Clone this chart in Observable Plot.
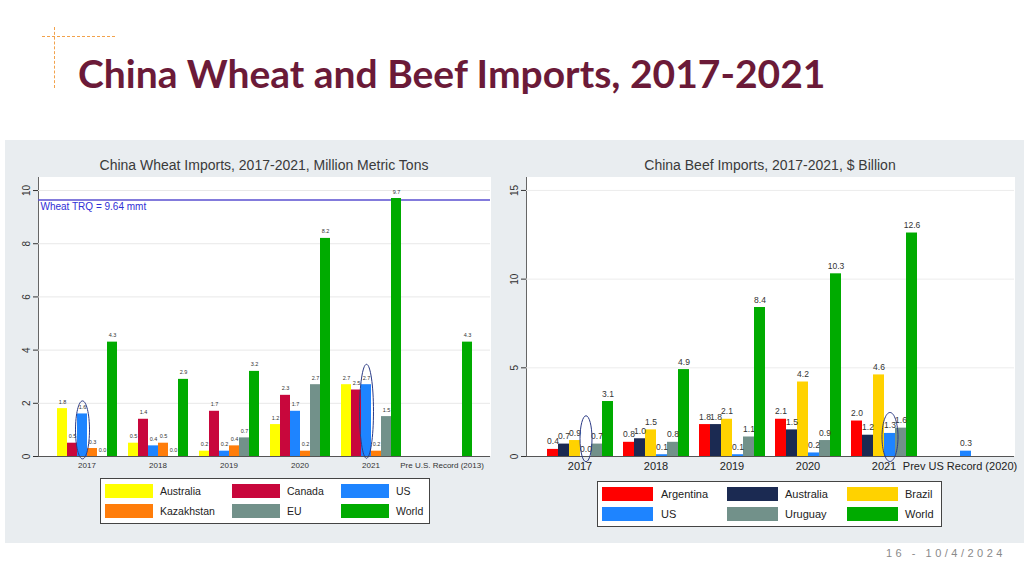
<!DOCTYPE html>
<html><head><meta charset="utf-8">
<script src="https://cdn.jsdelivr.net/npm/d3@7"></script>
<script src="https://cdn.jsdelivr.net/npm/@observablehq/plot@0.6"></script>
<style>
body{margin:0;width:1024px;height:576px;position:relative;background:#fff;font-family:"Liberation Sans",Arial,sans-serif;overflow:hidden}
.abs{position:absolute}
.sw{position:absolute;height:14px}
.lt{position:absolute;color:#222;line-height:14px}
</style></head><body>
<div class="abs" style="left:42px;top:36px;width:73px;border-top:1.5px dashed #f2a24c"></div>
<div class="abs" style="left:54px;top:27px;height:61px;border-left:1.5px dashed #f2a24c"></div>
<div class="abs" id="title" style="left:78px;top:50px;font-family:Lato;font-weight:bold;font-size:39px;color:#6b1a38;white-space:nowrap">China Wheat and Beef Imports, 2017-2021</div>
<div class="abs" style="left:5px;top:140px;width:1019px;height:403px;background:#e9edf0"></div>
<div class="abs" style="left:0;top:157px;width:528px;text-align:center;font-size:14px;color:#3a3a3a">China Wheat Imports, 2017-2021, Million Metric Tons</div>
<div class="abs" style="left:526px;top:157px;width:488px;text-align:center;font-size:14px;color:#3a3a3a">China Beef Imports, 2017-2021, $ Billion</div>
<div class="abs" style="left:38px;top:177px;width:452px;height:279px;background:#fff;border-left:1px solid #666"></div>
<div class="abs" style="left:526px;top:177px;width:488px;height:279px;background:#fff;border-left:1px solid #666"></div>
<div id="w1" class="abs" style="left:0;top:170px"></div>
<div id="w2" class="abs" style="left:0;top:170px"></div>
<div id="b1" class="abs" style="left:490px;top:170px"></div>
<div id="b2" class="abs" style="left:490px;top:170px"></div>
<div id="legW" class="abs" style="left:100px;top:478px;width:328px;height:44px;background:#fff;border:1px solid #444"></div>
<div id="legB" class="abs" style="left:597px;top:481px;width:343px;height:44px;background:#fff;border:1px solid #444"></div>
<div class="abs" style="left:886px;top:547px;font-size:11px;letter-spacing:3.5px;color:#8a8a8a">16 - 10/4/2024</div>
<script>
// ---------- Wheat data (million metric tons) ----------
const wheatYears = ["2017", "2018", "2019", "2020", "2021", "Pre U.S. Record (2013)"];
const wheatSources = ["Australia", "Canada", "US", "Kazakhstan", "EU", "World"];
const wheatColors = ["#ffff00", "#c8073c", "#1e84ff", "#ff7d0a", "#72918a", "#00ab00"];
const wheatAustralia = [1.8, 0.5, 0.2, 1.2, 2.7, null];
const wheatCanada = [0.5, 1.4, 1.7, 2.3, 2.5, null];
const wheatUS = [1.6, 0.4, 0.2, 1.7, 2.7, null];
const wheatKazakhstan = [0.3, 0.5, 0.4, 0.2, 0.2, null];
const wheatEU = [0.0, 0.0, 0.7, 2.7, 1.5, null];
const wheatWorld = [4.3, 2.9, 3.2, 8.2, 9.7, 4.3];
const wheatTRQ = 9.64;
const wheatTicks = [0, 2, 4, 6, 8, 10];
const wheatHighlightYears = ["2017", "2021"];

// ---------- Beef data ($ billion) ----------
const beefYears = ["2017", "2018", "2019", "2020", "2021", "Prev US Record (2020)"];
const beefSources = ["Argentina", "Australia", "Brazil", "US", "Uruguay", "World"];
const beefColors = ["#ff0000", "#1b2a52", "#ffd200", "#1e84ff", "#72918a", "#00ab00"];
const beefArgentina = [0.4, 0.8, 1.8, 2.1, 2.0, null];
const beefAustralia = [0.7, 1.0, 1.8, 1.5, 1.2, null];
const beefBrazil = [0.9, 1.5, 2.1, 4.2, 4.6, null];
const beefUS = [0.0, 0.1, 0.1, 0.2, 1.3, 0.3];
const beefUruguay = [0.7, 0.8, 1.1, 0.9, 1.6, null];
const beefWorld = [3.1, 4.9, 8.4, 10.3, 12.6, null];
const beefTicks = [0, 5, 10, 15];
const beefHighlightYears = ["2017", "2021"];

function toRows(years, sources, series) {
  const rows = [];
  sources.forEach((s, j) => series[j].forEach((v, i) => { if (v != null) rows.push({year: years[i], source: s, value: v}); }));
  return rows;
}
const wheatRows = toRows(wheatYears, wheatSources, [wheatAustralia, wheatCanada, wheatUS, wheatKazakhstan, wheatEU, wheatWorld]);
const beefRows = toRows(beefYears, beefSources, [beefArgentina, beefAustralia, beefBrazil, beefUS, beefUruguay, beefWorld]);

const ellipseSymbol = (rx, ry) => ({draw(ctx) {
  const k = 0.5523;
  ctx.moveTo(rx, 0);
  ctx.bezierCurveTo(rx, ry * k, rx * k, ry, 0, ry);
  ctx.bezierCurveTo(-rx * k, ry, -rx, ry * k, -rx, 0);
  ctx.bezierCurveTo(-rx, -ry * k, -rx * k, -ry, 0, -ry);
  ctx.bezierCurveTo(rx * k, -ry, rx, -ry * k, rx, 0);
  ctx.closePath();
}});

const H = 306, MT = 7, MB = 20;
const wheatDomain = [0, 10.49], beefDomain = [0, 15.73];

// Wheat background: grid, y axis, TRQ line
const w1 = Plot.plot({
  width: 490, height: H, marginLeft: 38, marginRight: 0, marginTop: MT, marginBottom: MB,
  style: {background: "transparent", fontFamily: "Liberation Sans, Arial", fontSize: "10px", color: "#333"},
  y: {domain: wheatDomain, ticks: wheatTicks, tickSize: 5, tickRotate: -90, tickFormat: "d", label: null},
  marks: [
    Plot.ruleY(wheatTicks.filter(d => d > 0), {stroke: "#e8e8e8"}),
    Plot.ruleY([0], {stroke: "#555"}),
    Plot.ruleY([wheatTRQ], {stroke: "#5a4fd0", strokeWidth: 1.5}),
    Plot.text([wheatTRQ], {y: d => d, text: d => `Wheat TRQ = ${d} mmt`, frameAnchor: "left", textAnchor: "start", lineAnchor: "top", dx: 2, dy: 3, fill: "#2f2fd6", fontSize: 10})
  ]
});
document.getElementById("w1").append(w1);

const w2 = Plot.plot({
  width: 490, height: H, marginLeft: 38, marginRight: 0, marginTop: MT, marginBottom: MB,
  style: {background: "transparent", fontFamily: "Liberation Sans, Arial", fontSize: "8px", color: "#333"},
  fx: {domain: wheatYears, paddingInner: 0.078, paddingOuter: 0.195, label: null, axis: "bottom", tickSize: 0, tickPadding: 6},
  x: {domain: wheatSources, padding: 0, axis: null},
  y: {domain: wheatDomain, axis: null},
  color: {domain: wheatSources, range: wheatColors},
  marks: [
    Plot.barY(wheatRows, {fx: "year", x: "source", y: "value", fill: "source"}),
    Plot.text(wheatRows, {fx: "year", x: "source", y: "value", text: d => d.value.toFixed(1), lineAnchor: "bottom", dy: -5, fontSize: 5.5, fill: "#333"}),
    Plot.dot(wheatHighlightYears.slice(0, 1), {fx: d => d, x: () => "US", y: () => 1.0, r: 3, symbol: ellipseSymbol(7, 29), stroke: "#2b3a85", fill: "none", strokeWidth: 1}),
    Plot.dot(wheatHighlightYears.slice(1), {fx: d => d, x: () => "US", y: () => 1.7, r: 3, symbol: ellipseSymbol(7, 47), stroke: "#2b3a85", fill: "none", strokeWidth: 1})
  ]
});
document.getElementById("w2").append(w2);

const b1 = Plot.plot({
  width: 534, height: H, marginLeft: 36, marginRight: 10, marginTop: MT, marginBottom: MB,
  style: {background: "transparent", fontFamily: "Liberation Sans, Arial", fontSize: "10px", color: "#333"},
  y: {domain: beefDomain, ticks: beefTicks, tickSize: 5, tickRotate: -90, tickFormat: "d", label: null},
  marks: [
    Plot.ruleY(beefTicks.filter(d => d > 0), {stroke: "#ececec"}),
    Plot.ruleY([0], {stroke: "#555"})
  ]
});
document.getElementById("b1").append(b1);

const b2 = Plot.plot({
  width: 534, height: H, marginLeft: 36, marginRight: 10, marginTop: MT, marginBottom: MB,
  style: {background: "transparent", fontFamily: "Liberation Sans, Arial", fontSize: "11px", color: "#222"},
  fx: {domain: beefYears, paddingInner: 0.086, paddingOuter: 0.23, label: null, axis: "bottom", tickSize: 0, tickPadding: 6},
  x: {domain: beefSources, padding: 0, axis: null},
  y: {domain: beefDomain, axis: null},
  color: {domain: beefSources, range: beefColors},
  marks: [
    Plot.barY(beefRows, {fx: "year", x: "source", y: "value", fill: "source"}),
    Plot.text(beefRows, {fx: "year", x: "source", y: "value", text: d => d.value.toFixed(1), lineAnchor: "bottom", dy: -5, fontSize: 8.5, fill: "#333"}),
    Plot.dot(beefHighlightYears.slice(0, 1), {fx: d => d, x: () => "US", y: () => 1.0, r: 3, symbol: ellipseSymbol(6, 23), stroke: "#2b3a85", fill: "none", strokeWidth: 1}),
    Plot.dot(beefHighlightYears.slice(1), {fx: d => d, x: () => "US", y: () => 1.1, r: 3, symbol: ellipseSymbol(8, 24.5), stroke: "#2b3a85", fill: "none", strokeWidth: 1})
  ]
});
document.getElementById("b2").append(b2);

// Legends (HTML)
function legend(el, names, colors, cfg) {
  const box = document.getElementById(el);
  names.forEach((name, i) => {
    const col = i % 3, row = Math.floor(i / 3);
    const sw = document.createElement("div");
    sw.className = "sw";
    sw.style.left = cfg.sx[col] + "px"; sw.style.top = cfg.sy[row] + "px";
    sw.style.width = cfg.sw + "px"; sw.style.background = colors[i];
    box.append(sw);
    const t = document.createElement("div");
    t.className = "lt"; t.textContent = name;
    t.style.left = cfg.tx[col] + "px"; t.style.top = cfg.sy[row] + "px"; t.style.fontSize = cfg.fs + "px";
    box.append(t);
  });
}
legend("legW", wheatSources, wheatColors, {sx: [4, 131, 240], tx: [59, 186, 295], sy: [5, 25], sw: 48, fs: 10.5});
legend("legB", beefSources, beefColors, {sx: [4, 129, 249], tx: [63, 187, 307], sy: [5, 25], sw: 51, fs: 11});
</script>
</body></html>
